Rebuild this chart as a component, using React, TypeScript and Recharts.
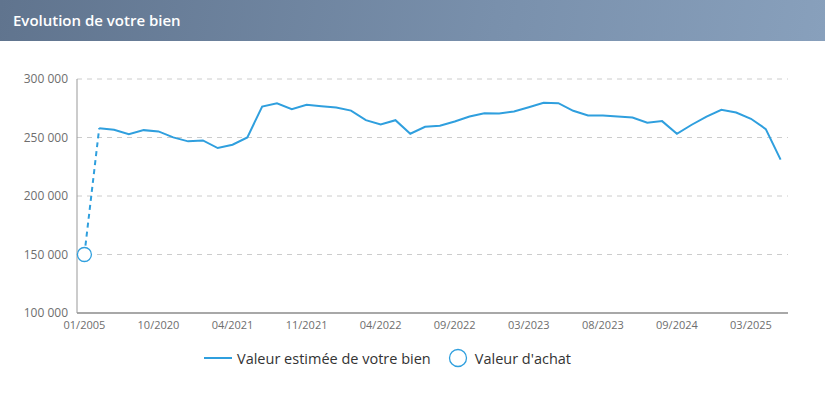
import React from "react";
import {
  ComposedChart,
  Line,
  XAxis,
  YAxis,
  CartesianGrid,
  Legend,
} from "recharts";

const dates = [
  "01/2005",
  "06/2020", "07/2020", "08/2020", "09/2020", "10/2020",
  "11/2020", "12/2020", "01/2021", "03/2021", "04/2021",
  "05/2021", "06/2021", "07/2021", "09/2021", "11/2021",
  "12/2021", "01/2022", "02/2022", "03/2022", "04/2022",
  "05/2022", "06/2022", "07/2022", "08/2022", "09/2022",
  "10/2022", "11/2022", "12/2022", "01/2023", "03/2023",
  "04/2023", "05/2023", "06/2023", "07/2023", "08/2023",
  "11/2023", "01/2024", "03/2024", "06/2024", "09/2024",
  "10/2024", "11/2024", "12/2024", "01/2025", "03/2025",
  "04/2025", "05/2025",
];

const estimatedValues: (number | null)[] = [
  null,
  258000, 256600, 252900, 256300, 255200,
  250100, 246700, 247500, 241000, 243800,
  250100, 276400, 279300, 274200, 278000,
  276800, 275600, 273000, 264800, 261100,
  264800, 253200, 259200, 260000, 263700,
  267900, 270800, 270500, 272200, 275800,
  279600, 279300, 272800, 268800, 268800,
  267900, 267100, 262600, 264000, 253200,
  260900, 267900, 273600, 271300, 266000,
  257200, 231100,
];

const purchaseValues: (number | null)[] = [150000];

const tickLabels = [
  "01/2005", "10/2020", "04/2021", "11/2021", "04/2022",
  "09/2022", "03/2023", "08/2023", "09/2024", "03/2025",
];

const yTicks = [100000, 150000, 200000, 250000, 300000];

const BLUE = "#2f9fde";

const data = dates.map((d, i) => ({
  date: d,
  estimate: estimatedValues[i] ?? null,
  purchase: purchaseValues[i] ?? null,
  link: i === 0 ? purchaseValues[0] : i === 1 ? estimatedValues[1] : null,
}));

const fmt = (v: number) =>
  String(v).replace(/\B(?=(\d{3})+(?!\d))/g, " ");

const FONT = "'Open Sans', 'Noto Sans', sans-serif";

const LegendContent = () => (
  <div
    style={{
      display: "flex",
      justifyContent: "flex-start",
      alignItems: "center",
      paddingLeft: 204,
      fontFamily: FONT,
      fontSize: 14.5,
      color: "#333",
    }}
  >
    <svg width={28} height={10} style={{ marginRight: 5 }}>
      <line x1={0} y1={5} x2={28} y2={5} stroke={BLUE} strokeWidth={2} />
    </svg>
    <span>Valeur estimée de votre bien</span>
    <svg width={20} height={20} style={{ marginLeft: 17, marginRight: 7 }}>
      <circle cx={10} cy={10} r={8.5} fill="#fff" stroke={BLUE} strokeWidth={1.3} />
    </svg>
    <span>Valeur d'achat</span>
  </div>
);

const PurchaseDot = (props: any) => {
  const { cx, cy, value } = props;
  if (value == null || cx == null || cy == null) return <g />;
  return <circle cx={cx} cy={cy} r={7} fill="#fff" stroke={BLUE} strokeWidth={1.3} />;
};

export default function App() {
  return (
    <div
      style={{
        position: "absolute",
        left: 0,
        top: 0,
        width: 825,
        height: 393,
        background: "#fff",
        overflow: "hidden",
      }}
    >
      <div
        style={{
          height: 41,
          background: "linear-gradient(100deg, #60748e 0%, #7990ac 60%, #88a0bc 100%)",
          color: "#fff",
          fontFamily: FONT,
          fontWeight: 600,
          fontSize: 15,
          lineHeight: "41px",
          paddingLeft: 13,
        }}
      >
        Evolution de votre bien
      </div>
      <ComposedChart
        width={825}
        height={352}
        data={data}
        margin={{ top: 38, right: 37, left: 0, bottom: 50 }}
      >
        <CartesianGrid
          vertical={false}
          stroke="#cccccc"
          strokeDasharray="5 5"
        />
        <XAxis
          dataKey="date"
          scale="band"
          ticks={tickLabels}
          interval={0}
          height={30}
          tickLine={false}
          axisLine={{ stroke: "#a8a8a8", strokeWidth: 2 }}
          tick={{ fill: "#6e6e6e", fontSize: 11, fontFamily: FONT }}
          tickSize={6}
          tickMargin={2}
        />
        <YAxis
          width={77}
          domain={[100000, 300000]}
          ticks={yTicks}
          tickFormatter={fmt}
          tickLine={false}
          axisLine={{ stroke: "#999999" }}
          tick={{ fill: "#6e6e6e", fontSize: 12, fontFamily: FONT }}
          tickSize={6}
          tickMargin={3}
        />
        <Line
          dataKey="link"
          stroke={BLUE}
          strokeWidth={2}
          strokeDasharray="5 4"
          dot={false}
          activeDot={false}
          connectNulls={false}
          isAnimationActive={false}
        />
        <Line
          dataKey="estimate"
          stroke={BLUE}
          strokeWidth={2}
          dot={false}
          activeDot={false}
          isAnimationActive={false}
        />
        <Line
          dataKey="purchase"
          stroke="none"
          dot={<PurchaseDot />}
          activeDot={false}
          isAnimationActive={false}
        />
        <Legend
          verticalAlign="middle"
          align="center"
          content={<LegendContent />}
          wrapperStyle={{ position: "absolute", top: 307, left: 0, width: 825 }}
        />
      </ComposedChart>
    </div>
  );
}
